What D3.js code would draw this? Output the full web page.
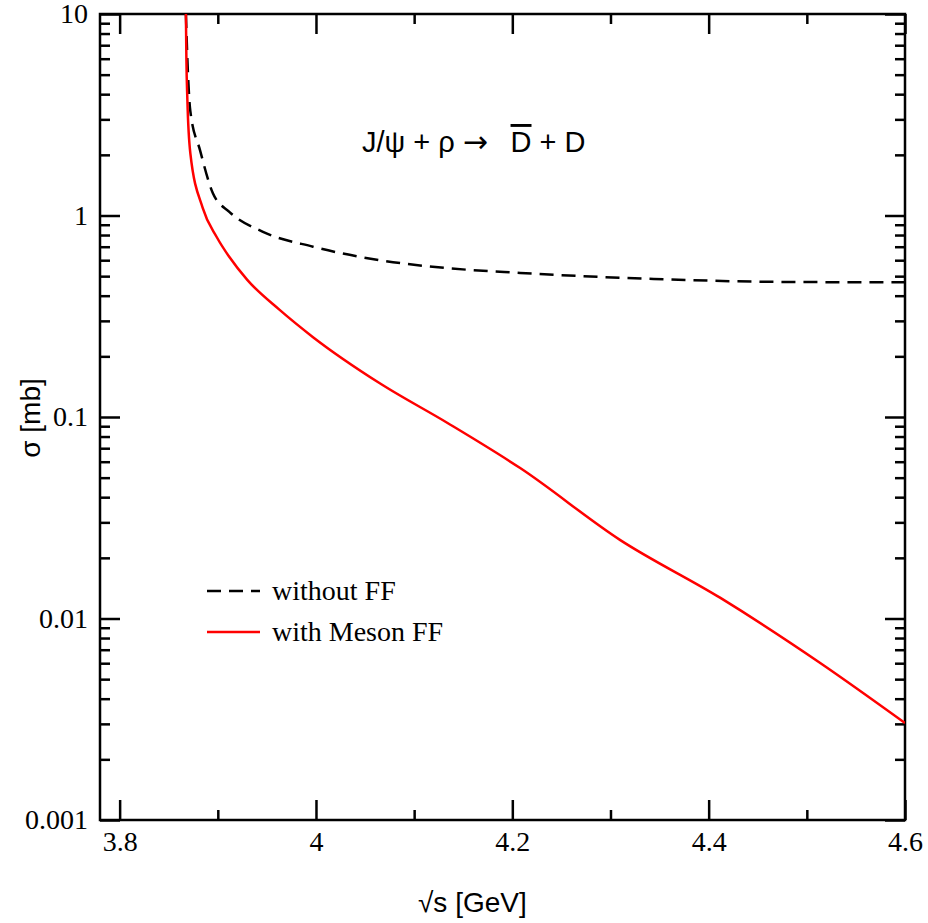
<!DOCTYPE html>
<html><head><meta charset="utf-8">
<script src="https://cdn.jsdelivr.net/npm/d3@7"></script>
<style>body{margin:0;background:#fff}</style>
</head><body><div id="chart"></div>
<script>
// sqrt(s) [GeV] and sigma [mb]
const xNoFF = [3.8675, 3.869, 3.872, 3.882, 3.895, 3.912, 3.946, 3.997, 4.065, 4.134, 4.208, 4.344, 4.48, 4.6];
const yNoFF = [10, 6, 3.3, 2.1, 1.29, 1.04, 0.83, 0.70, 0.60, 0.548, 0.519, 0.484, 0.468, 0.466];
const xFF = [3.8675, 3.868, 3.869, 3.872, 3.8846, 3.899, 3.912, 3.930, 3.963, 3.997, 4.065, 4.134, 4.208, 4.310, 4.412, 4.514, 4.6];
const yFF = [10, 6, 3.75, 2.04, 1.09, 0.78, 0.62, 0.479, 0.34, 0.249, 0.147, 0.0934, 0.0558, 0.0245, 0.01265, 0.006, 0.00303];
const xTicks = [3.8, 4, 4.2, 4.4, 4.6];
const yTicks = [0.001, 0.01, 0.1, 1, 10];
const yTickLabels = ["0.001", "0.01", "0.1", "1", "10"];

const W = 928, H = 923;
const m = {left: 100, right: 23, top: 14, bottom: 103};
const svg = d3.select('#chart').append('svg').attr('width', W).attr('height', H);

const x = d3.scaleLinear().domain([3.78, 4.6]).range([m.left, W - m.right]);
const y = d3.scaleLog().domain([0.001, 10]).range([H - m.bottom, m.top]);

const minorX = d3.range(3.9, 4.6, 0.2);
const minorY = [];
yTicks.slice(0, -1).forEach(d => { for (let k = 2; k < 10; k++) minorY.push(d * k); });

const axisStyle = g => {
  g.select('.domain').remove();
  g.selectAll('line').attr('stroke', '#000').attr('stroke-width', 2.5);
  g.selectAll('text').style('font-family', '"Liberation Serif", serif').style('font-size', '28px').attr('fill', '#000');
};

const x0 = x.range()[0], x1 = x.range()[1], y0 = y.range()[0], y1 = y.range()[1];

// ticks inside on all four sides
[[y0, -1, true], [y1, 1, false]].forEach(([yy, dir, lab]) => {
  const g = svg.append('g').attr('transform', `translate(0,${yy})`);
  g.call(d3.axisBottom(x).tickValues(xTicks).tickSize(dir * 20).tickPadding(10)
    .tickFormat(lab ? d3.format('') : () => '')).call(axisStyle);
  g.selectAll('text').attr('y', 10).attr('dy', '0.75em');
  svg.append('g').attr('transform', `translate(0,${yy})`)
    .call(d3.axisBottom(x).tickValues(minorX).tickSize(dir * 10).tickFormat(() => '')).call(axisStyle);
});
[[x0, 1, true], [x1, -1, false]].forEach(([xx, dir, lab]) => {
  const g = svg.append('g').attr('transform', `translate(${xx},0)`);
  g.call(d3.axisLeft(y).tickValues(yTicks).tickSize(-dir * 20).tickPadding(8)
    .tickFormat(lab ? (d, i) => yTickLabels[i] : () => '')).call(axisStyle);
  g.selectAll('text').attr('x', -12);
  svg.append('g').attr('transform', `translate(${xx},0)`)
    .call(d3.axisLeft(y).tickValues(minorY).tickSize(-dir * 10).tickFormat(() => '')).call(axisStyle);
});

svg.append('rect').attr('x', x0).attr('y', y1).attr('width', x1 - x0).attr('height', y0 - y1)
  .attr('fill', 'none').attr('stroke', '#000').attr('stroke-width', 2.5);

svg.append('clipPath').attr('id', 'clip').append('rect')
  .attr('x', x0).attr('y', y1).attr('width', x1 - x0).attr('height', y0 - y1);

const line = d3.line().x(d => x(d[0])).y(d => y(d[1])).curve(d3.curveMonotoneX);
svg.append('path').datum(d3.zip(xNoFF, yNoFF)).attr('clip-path', 'url(#clip)')
  .attr('d', line).attr('fill', 'none').attr('stroke', '#000').attr('stroke-width', 2.5)
  .attr('stroke-dasharray', '14,8');
svg.append('path').datum(d3.zip(xFF, yFF)).attr('clip-path', 'url(#clip)')
  .attr('d', line).attr('fill', 'none').attr('stroke', '#f00').attr('stroke-width', 2.5);

// title formula
const t = svg.append('text').attr('x', 362).attr('y', 152)
  .style('font-family', '"Liberation Sans", sans-serif').style('font-size', '29px').attr('fill', '#000');
t.append('tspan').text('J/\u03c8 + \u03c1 ');
t.append('tspan').style('font-family', '"DejaVu Sans"').style('font-size', '30px').text('\u2192');
t.append('tspan').text('\u2002 ');
t.append('tspan').attr('text-decoration', 'overline').text('D');
t.append('tspan').text(' + D');

// legend
const legend = [['without FF', '#000', '14,8'], ['with Meson FF', '#f00', null]];
legend.forEach((d, i) => {
  const yy = 591 + i * 41;
  svg.append('line').attr('x1', 207).attr('x2', 260).attr('y1', yy).attr('y2', yy)
    .attr('stroke', d[1]).attr('stroke-width', 2.5).attr('stroke-dasharray', d[2]);
  svg.append('text').attr('x', 272).attr('y', yy + 9).text(d[0])
    .style('font-family', '"Liberation Serif", serif').style('font-size', '28px');
});

// axis titles
svg.append('text').attr('x', 418).attr('y', 912)
  .style('font-family', '"Liberation Sans", sans-serif').style('font-size', '28px').text('\u221As [GeV]');
svg.append('text').attr('transform', 'translate(40,418) rotate(-90)').attr('text-anchor', 'middle')
  .style('font-family', '"Liberation Sans", sans-serif').style('font-size', '28px').text('\u03c3 [mb]');
</script></body></html>
